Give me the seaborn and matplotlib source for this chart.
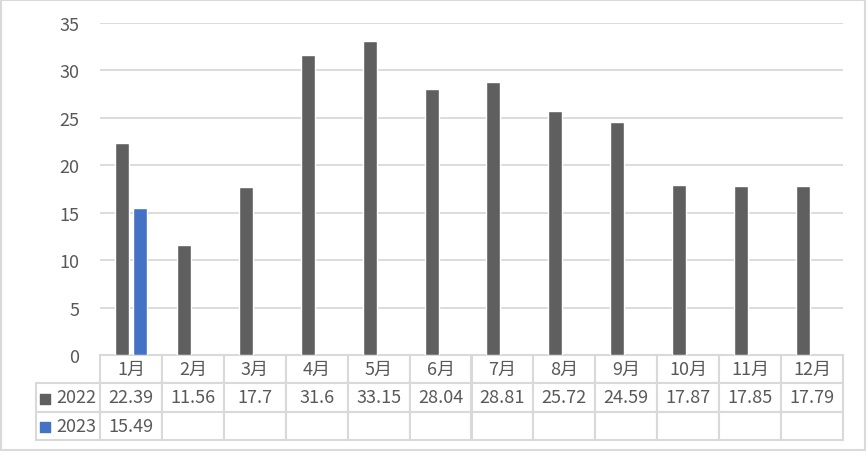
import numpy as np
import pandas as pd
import matplotlib.pyplot as plt
import seaborn as sns
from matplotlib.patches import Rectangle

# data
months = ["1月", "2月", "3月", "4月", "5月", "6月", "7月", "8月", "9月", "10月", "11月", "12月"]
years = ["2022", "2023"]
v2022 = [22.39, 11.56, 17.7, 31.6, 33.15, 28.04, 28.81, 25.72, 24.59, 17.87, 17.85, 17.79]
v2023 = [15.49] + [np.nan] * 11
colors = ["#5F5F5F", "#4472C4"]

df = pd.DataFrame({
    "month": months * 2,
    "year": ["2022"] * 12 + ["2023"] * 12,
    "value": v2022 + v2023,
})

sns.set_theme(style="white")
plt.rcParams["font.family"] = ["Noto Sans CJK SC", "DejaVu Sans"]
grey_txt = "#595959"
line_c = "#D9D9D9"
fs = 13

fig = plt.figure(figsize=(8.67, 4.52), dpi=100)
ax = fig.add_axes([100 / 867, 96 / 452, 743 / 867, 332 / 452])

sns.barplot(data=df, x="month", y="value", hue="year", order=months, hue_order=years,
            palette=colors, width=0.58, gap=0.22, saturation=1, ax=ax, legend=False)

ax.set_xlim(-0.5, len(months) - 0.5)
ax.set_ylim(0, 35)
ax.set_yticks(range(0, 36, 5))
ax.yaxis.grid(True, color=line_c, linewidth=1.3)
ax.set_axisbelow(True)
ax.tick_params(axis="y", length=0, pad=15, labelsize=fs, labelcolor=grey_txt)
ax.set_xticks([])
ax.set_xlabel("")
ax.set_ylabel("")
for s in ax.spines.values():
    s.set_visible(False)

# data table under the chart (first column holds the series names)
rlw = 64 / 743
rows = [[""] + months,
        [years[0]] + [f"{v:g}" for v in v2022],
        [years[1]] + [f"{v:g}" if not np.isnan(v) else "" for v in v2023]]
tbl = ax.table(cellText=rows, colWidths=[rlw] + [1 / 12] * 12, cellLoc="center",
               bbox=[-rlw, -85 / 332, 1 + rlw, 85 / 332])
tbl.auto_set_font_size(False)
for (r, c), cell in tbl.get_celld().items():
    cell.set_edgecolor(line_c)
    cell.set_linewidth(1.5)
    cell.get_text().set_fontsize(fs)
    cell.get_text().set_color(grey_txt)
    if c == 0:
        cell._loc = "right"
        cell.PAD = 0.06
        cell.get_text().set_ha("right")
tbl[(0, 0)].visible_edges = ""

# legend keys in the row labels
for i, col in enumerate(colors):
    ax.scatter([-55.5 / 743], [-(44 + 28 * i) / 332], marker="s", s=60, color=col,
               transform=ax.transAxes, clip_on=False, zorder=5)

fig.patches.append(Rectangle((0.001, 0.002), 0.997, 0.996, transform=fig.transFigure,
                             fill=False, edgecolor=line_c, linewidth=1.5))

fig.savefig("out.png", dpi=100)
